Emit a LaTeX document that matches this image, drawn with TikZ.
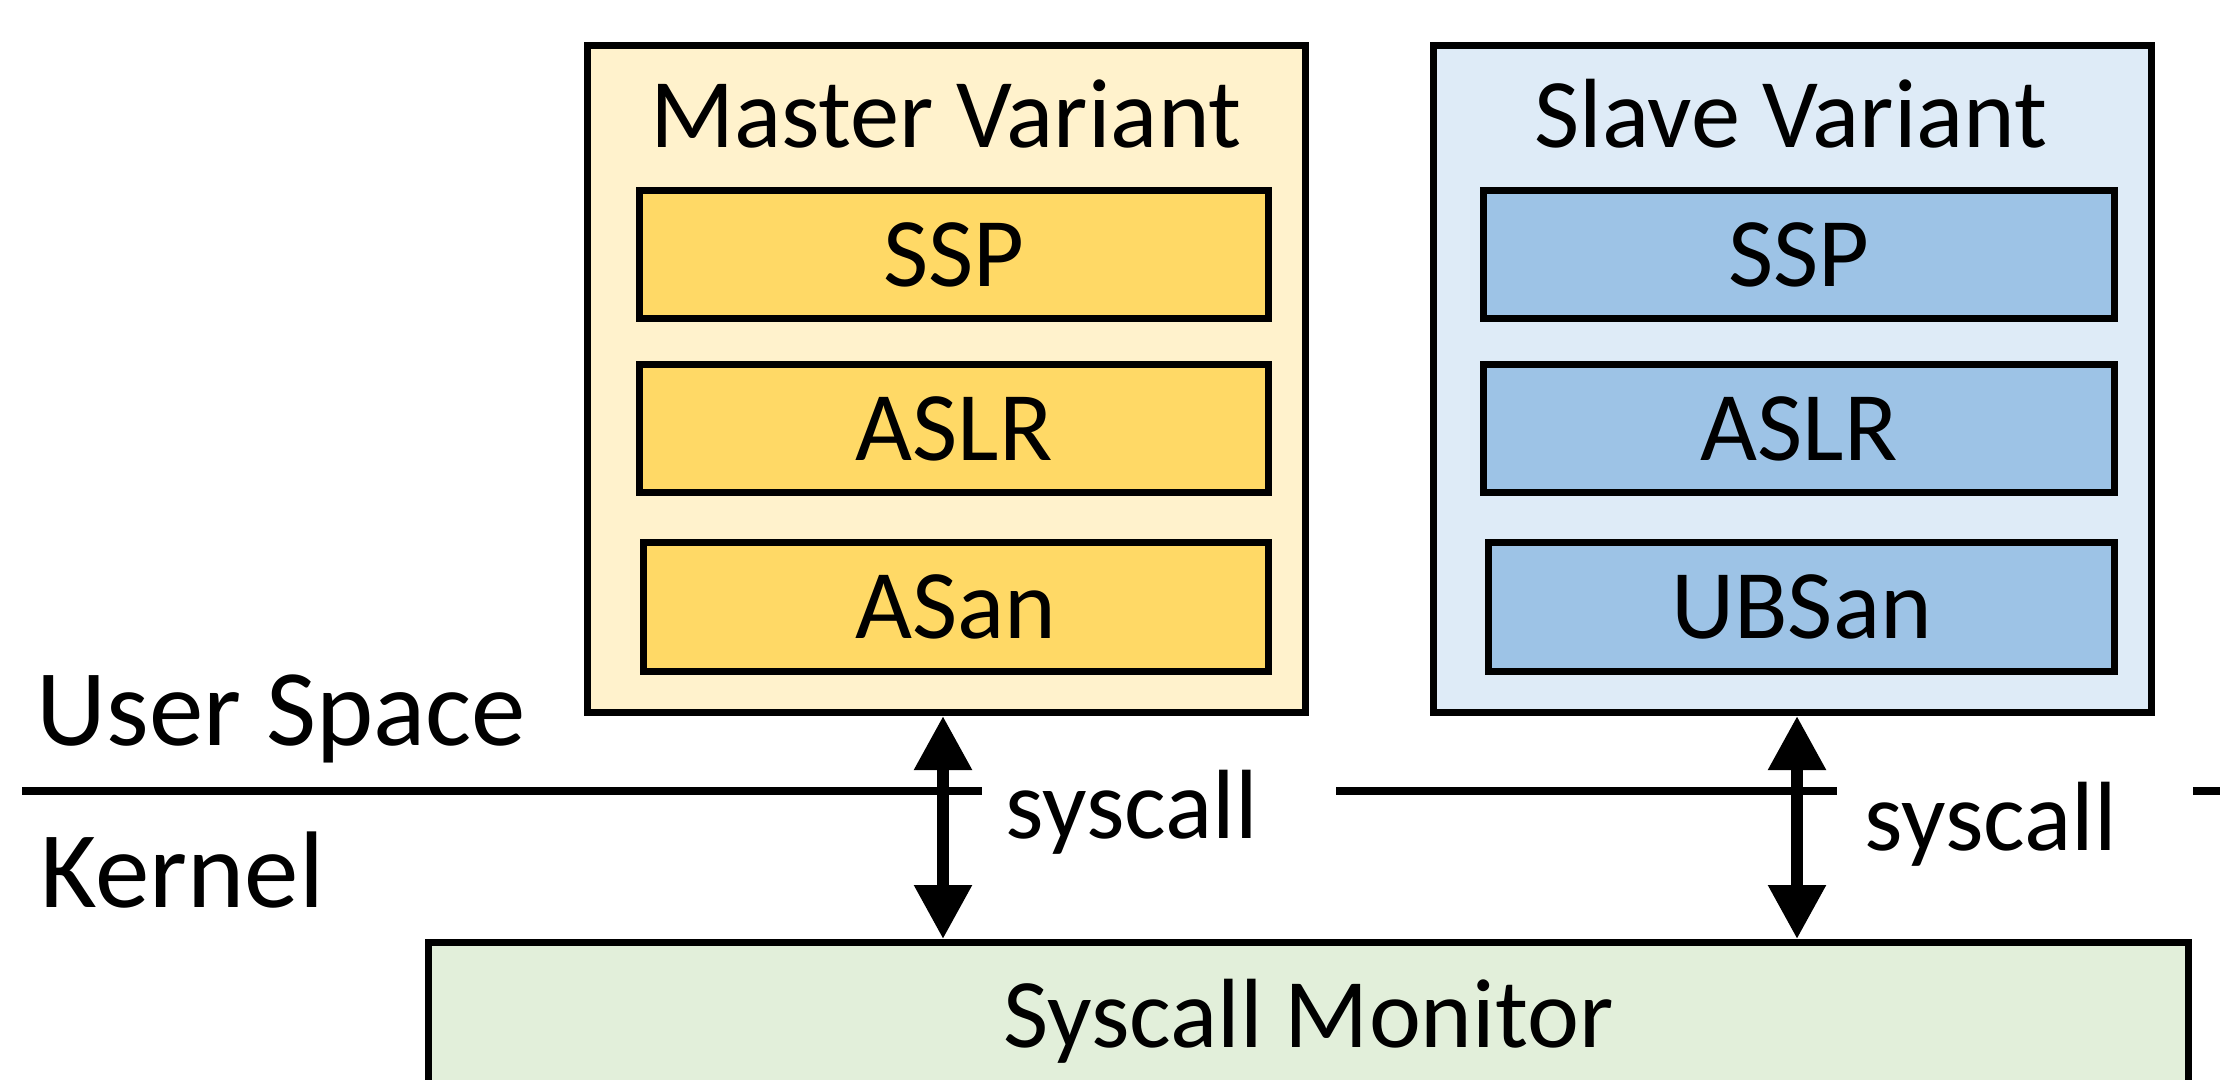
\documentclass[tikz,border=0pt]{standalone}
\usepackage{fontspec}
\setmainfont{Carlito}
\usetikzlibrary{positioning, arrows.meta}

\definecolor{masterouter}{HTML}{FFF2CC}
\definecolor{masterinner}{HTML}{FFD966}
\definecolor{slaveouter}{HTML}{DEEBF7}
\definecolor{slaveinner}{HTML}{9DC3E6}
\definecolor{monitorfill}{HTML}{E2EFDA}

\tikzset{
	boxfont/.style={font=\fontsize{28}{34}\selectfont},
	spacefont/.style={font=\fontsize{31}{37}\selectfont},
	variantbox/.style={draw, line width=2pt, inner sep=0pt,
		minimum width=7.18cm, minimum height=6.67cm},
	layerbox/.style={draw, line width=2pt, inner sep=0pt, boxfont,
		minimum width=6.29cm, minimum height=1.28cm},
	titletext/.style={inner sep=0pt, anchor=base, boxfont},
	spacetext/.style={inner sep=0pt, anchor=base west, spacefont},
	syscalltext/.style={inner sep=0pt, anchor=base west, boxfont},
	syscallarrow/.style={{Triangle[length=0.54cm,width=0.55cm]}-{Triangle[length=0.54cm,width=0.55cm]}, line width=3.4pt},
	separator/.style={line width=2.5pt}
}

\begin{document}
\begin{tikzpicture}
	\useasboundingbox (0,0) rectangle (22.2,-10.79);
	\clip (0,0) rectangle (22.2,-10.79);

	% variants
	\node[variantbox, fill=masterouter] (master) at (9.465,-3.79) {};
	\node[variantbox, fill=slaveouter] (slave) at (17.92,-3.79) {};
	\node[titletext] (mastertitle) at (9.46,-1.47) {Master Variant};
	\node[titletext] (slavetitle) at (17.91,-1.47) {Slave Variant};

	\node[layerbox, fill=masterinner] (mssp) at (9.54,-2.545) {SSP};
	\node[layerbox, fill=masterinner, below=0.39cm of mssp] (maslr) {ASLR};
	\node[layerbox, fill=masterinner, minimum width=6.25cm, minimum height=1.29cm] (masan) at (9.56,-6.07) {ASan};

	\node[layerbox, fill=slaveinner, minimum width=6.31cm] (sssp) at (17.99,-2.545) {SSP};
	\node[layerbox, fill=slaveinner, minimum width=6.31cm, below=0.39cm of sssp] (saslr) {ASLR};
	\node[layerbox, fill=slaveinner, minimum width=6.26cm, minimum height=1.29cm] (subsan) at (18.015,-6.07) {UBSan};

	% kernel side
	\node[draw, line width=2pt, fill=monitorfill, boxfont, anchor=north,
		minimum width=17.6cm, minimum height=1.47cm,
		text height=0.62cm, text depth=0cm] (monitor) at (13.085,-9.39) {Syscall Monitor};

	% user / kernel boundary
	\draw[separator] (0.22,-7.91) -- (9.82,-7.91);
	\draw[separator] (13.36,-7.91) -- (18.37,-7.91);
	\draw[separator] (21.93,-7.91) -- (22.2,-7.91);
	\node[spacetext] (user) at (0.36,-7.45) {User Space};
	\node[spacetext] (kernel) at (0.40,-9.07) {Kernel};

	\draw[syscallarrow] ([xshift=-0.035cm]master.south) -- ([xshift=-0.035cm]master.south |- monitor.north);
	\draw[syscallarrow] ([xshift=0.05cm]slave.south) -- ([xshift=0.05cm]slave.south |- monitor.north);
	\node[syscalltext] (sys1) at (10.05,-8.38) {syscall};
	\node[syscalltext] (sys2) at (18.64,-8.50) {syscall};
\end{tikzpicture}
\end{document}
